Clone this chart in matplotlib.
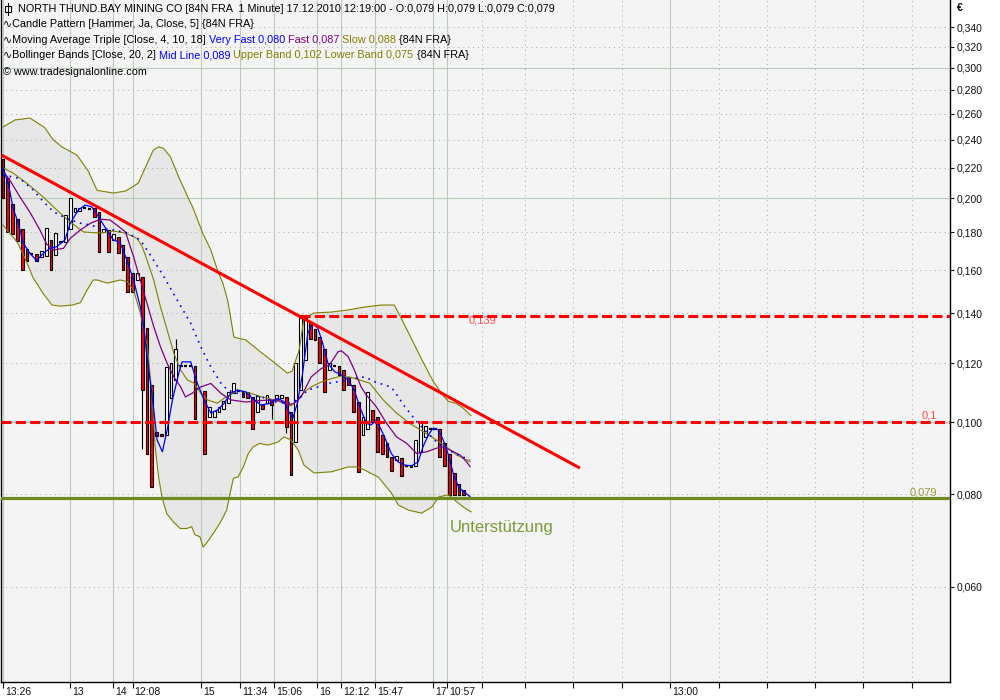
import numpy as np
import matplotlib
matplotlib.use("Agg")
import matplotlib.pyplot as plt
import matplotlib.transforms as mtransforms
from matplotlib.ticker import FixedLocator, FuncFormatter, NullLocator

plt.rcParams["font.family"] = ["Liberation Sans", "DejaVu Sans"]

# 1-minute candles, one slot per traded minute (nan = empty slot)
opens = [0.226, 0.213, 0.1965, 0.1876, 0.1817, 0.1708, 0.1683, 0.1681, 0.1668, 0.1675,
         0.1758, 0.1676, 0.1746, 0.1748, 0.1821, 0.1919, 0.1925, 0.1943, 0.1935, 0.1939,
         0.1917, 0.1804, 0.1813, 0.1758, 0.1773, 0.1729, 0.1666, 0.1586, 0.1553, 0.1568,
         0.1337, 0.1122, 0.097, 0.0965, 0.096, 0.1077, 0.1139, 0.1193, 0.1188, 0.119,
         0.1188, np.nan, 0.1101, 0.1017, 0.1017, 0.103, 0.1041, 0.106, 0.1093, 0.1102,
         0.1098, 0.1096, 0.1082, 0.103, 0.1054, 0.106, 0.1071, 0.1071, 0.1076, 0.1079,
         0.1033, 0.0941, 0.1104, 0.1212, 0.1365, 0.1333, 0.1303, 0.1253, 0.1175, 0.1188,
         0.1188, 0.1175, 0.1148, 0.1122, 0.1064, 0.096, 0.0978, 0.1038, 0.1017, 0.0962,
         0.0936, 0.0897, 0.0889, 0.0894, 0.0872, 0.0875, 0.0872, 0.091, 0.0955, 0.0979,
         0.098, 0.0978, 0.0937, 0.0907, 0.0853, 0.0824, 0.081, 0.079]
closes = [0.200, 0.180, 0.179, 0.1753, 0.1602, 0.1648, 0.1683, 0.1648, 0.1699, 0.1826,
          0.1602, 0.1797, 0.1752, 0.1899, 0.200, 0.1943, 0.1943, 0.1943, 0.1935, 0.1887,
          0.1695, 0.1817, 0.1695, 0.1789, 0.1687, 0.1602, 0.1497, 0.1497, 0.1588, 0.1106,
          0.0907, 0.0818, 0.0958, 0.0959, 0.1187, 0.1199, 0.1252, 0.1188, 0.1188, 0.119,
          0.1008, np.nan, 0.0907, 0.1049, 0.1036, 0.1049, 0.1067, 0.1098, 0.1127, 0.1102,
          0.1079, 0.1078, 0.0978, 0.1084, 0.1041, 0.1089, 0.1054, 0.1089, 0.1089, 0.0985,
          0.0849, 0.1199, 0.1379, 0.1379, 0.1295, 0.1289, 0.1199, 0.1098, 0.1199, 0.1188,
          0.1157, 0.1106, 0.1122, 0.1032, 0.0857, 0.1017, 0.1098, 0.1001, 0.0912, 0.0907,
          0.0897, 0.086, 0.0899, 0.0846, 0.0872, 0.0869, 0.0946, 0.1001, 0.0988, 0.0979,
          0.098, 0.0897, 0.0873, 0.0798, 0.0798, 0.0798, 0.0798, 0.079]
wick_high = {36: 0.1292}
wick_low = {29: 0.0919, 56: 0.1008, 59: 0.0967}

# indicator lines (slot, value)
upper_x = [0, 2.5, 5.6, 8.7, 10.4, 12.3, 15.4, 17.7, 19.6, 23, 25.5, 26.9, 28.2, 29.7, 31.3,
           32.4, 33.4, 34.9, 36.6, 38.5, 39.5, 41.6, 43.3, 44.7, 45.8, 46.8, 47.4, 48.1, 50.6,
           53.7, 56.4, 59.2, 60.2, 61.7, 62.7, 64.8, 68.4, 71.9, 75.3, 78.8, 81.5, 82.4, 84.5,
           87.2, 89.6, 91.5, 92.8, 94.3, 95.8, 97.5]
upper_v = [0.2495, 0.255, 0.2565, 0.249, 0.240, 0.2345, 0.2287, 0.218, 0.205, 0.2033, 0.2046,
           0.2071, 0.2097, 0.2204, 0.2323, 0.2345, 0.2337, 0.2273, 0.2137, 0.2008, 0.1947,
           0.1796, 0.1704, 0.160, 0.1538, 0.1459, 0.1385, 0.1301, 0.1289, 0.1242, 0.1204,
           0.1164, 0.117, 0.125, 0.138, 0.1402, 0.1406, 0.1415, 0.1428, 0.1437, 0.1437, 0.1402,
           0.1318, 0.1215, 0.1135, 0.109, 0.1066, 0.106, 0.1045, 0.102]
lower_x = [0, 3.1, 5, 6.2, 8.3, 10.2, 11.9, 14.4, 16.1, 17.5, 18.8, 19.6, 21.7, 23, 24.4, 25.9,
           27.2, 28.6, 30.1, 31, 31.7, 32.4, 33.1, 34.1, 35.5, 36.9, 38.3, 39.3, 40, 41, 41.7,
           42.4, 43.8, 45.2, 46.6, 47.3, 48, 49, 50.1, 51.1, 52.1, 53.5, 55.2, 57.3, 58.5, 60,
           61.5, 62.7, 64.8, 68.4, 71.9, 73.8, 75.3, 78.2, 80.9, 82.4, 84.5, 87.2, 89.3, 90.8,
           92.8, 94.1, 96.2, 97.5]
lower_v = [0.1841, 0.1741, 0.1637, 0.1567, 0.1491, 0.1437, 0.1432, 0.1437, 0.1447, 0.1505,
           0.1553, 0.1553, 0.1538, 0.1545, 0.1553, 0.1545, 0.1505, 0.1402, 0.1262, 0.1094,
           0.0926, 0.0844, 0.0794, 0.0753, 0.0734, 0.0719, 0.0719, 0.0723, 0.0705, 0.0701,
           0.0679, 0.0687, 0.0708, 0.0731, 0.0761, 0.0802, 0.0840, 0.0844, 0.0871, 0.0907,
           0.0926, 0.0936, 0.0931, 0.094, 0.0955, 0.0946, 0.0917, 0.0875, 0.0854, 0.0857,
           0.087, 0.087, 0.0862, 0.0843, 0.0803, 0.0773, 0.0761, 0.0754, 0.0768, 0.0793,
           0.0798, 0.0785, 0.0766, 0.0757]
mid_x = [0, 3.5, 6.3, 8.4, 10.5, 13.3, 16.1, 18.2, 20.9, 23, 25.8, 28.6, 30.7, 33.5, 36.3,
         39.1, 41.2, 43.3, 45.4, 46.8, 48.8, 50.6, 53.7, 56.5, 59.3, 61.4, 63.5, 65.6, 67.7,
         69.8, 72.6, 75.4, 77.4, 80.9, 82.3, 83.7, 85.1, 86.5, 90.7, 94.1, 95.9, 97.3]
mid_v = [0.2150, 0.2127, 0.2052, 0.1980, 0.1919, 0.1878, 0.1852, 0.1841, 0.1821, 0.1813,
         0.1797, 0.1758, 0.1678, 0.1569, 0.1459, 0.1358, 0.1263, 0.1186, 0.1128, 0.1104,
         0.1093, 0.1087, 0.1082, 0.1065, 0.1060, 0.1071, 0.1104, 0.1115, 0.1127, 0.1133,
         0.1144, 0.1150, 0.1133, 0.1114, 0.1082, 0.1049, 0.1022, 0.0996, 0.0935, 0.0907,
         0.0897, 0.0889]
vfast_x = [0, 1.1, 2.1, 3.2, 4.2, 5.6, 7, 8.4, 9.8, 11.2, 12.9, 14, 15.7, 17.1, 18.5, 19.9,
           21.6, 23, 24.4, 25.8, 27.2, 28.6, 29.3, 30, 31.1, 32.1, 33.2, 34.2, 35.3, 36.6,
           37.3, 39.1, 40.5, 41.9, 43.3, 44.7, 46.1, 47.4, 48.8, 50.6, 51.6, 53.7, 55.8, 57.2,
           58.6, 59.7, 60.4, 61.4, 62.4, 63.5, 64.5, 65.6, 66.6, 67.7, 69.1, 70.5, 71.9, 73.2,
           74.3, 75.7, 76.7, 77.8, 78.8, 79.9, 80.9, 82.3, 83.7, 85.1, 86.5, 87.5, 88.6, 89.6,
           90.7, 91.7, 92.8, 93.8, 94.9, 95.9, 97.3]
vfast_v = [0.2196, 0.2093, 0.1939, 0.1851, 0.1742, 0.1687, 0.1649, 0.1687, 0.1713, 0.1722,
           0.1758, 0.1851, 0.1929, 0.1959, 0.1948, 0.1889, 0.1813, 0.1758, 0.1744, 0.1652,
           0.1553, 0.1429, 0.1344, 0.1225, 0.1081, 0.0946, 0.0912, 0.0976, 0.1071, 0.1162,
           0.1205, 0.1205, 0.1127, 0.1071, 0.1028, 0.1038, 0.1060, 0.1093, 0.1104, 0.1098,
           0.1081, 0.1054, 0.1060, 0.1076, 0.1065, 0.1028, 0.1012, 0.1065, 0.1162, 0.1316,
           0.1358, 0.1337, 0.1276, 0.1199, 0.1169, 0.1157, 0.1139, 0.1104, 0.1049, 0.0996,
           0.0991, 0.1006, 0.0976, 0.0941, 0.0907, 0.0884, 0.0875, 0.0873, 0.0884, 0.0926,
           0.0960, 0.0981, 0.0976, 0.0946, 0.0903, 0.0853, 0.0818, 0.0806, 0.0794]
fast_x = [0, 1.4, 3.5, 5.6, 7.7, 9.1, 10.5, 12.6, 14, 16.1, 18.2, 20.3, 22.3, 23.7, 25.5, 27.2,
          28.6, 30, 31.4, 32.8, 34.2, 35.6, 37, 38, 39.4, 41.2, 43.3, 45.4, 47.4, 50.6, 53.7,
          57.2, 59.3, 60.7, 62.1, 64.2, 66.3, 68, 69.8, 70.5, 71.9, 73.2, 74.6, 75.7, 77.8,
          79.9, 82, 84.1, 86.2, 88.3, 90.3, 91.7, 93.1, 95.2, 96.6, 97.3]
fast_v = [0.2175, 0.2117, 0.2010, 0.1916, 0.1813, 0.1735, 0.1704, 0.1713, 0.1767, 0.1813,
          0.1851, 0.1875, 0.1870, 0.1841, 0.1803, 0.1669, 0.1553, 0.1444, 0.1344, 0.1263,
          0.1199, 0.1150, 0.1115, 0.1081, 0.1093, 0.1115, 0.1127, 0.1093, 0.1071, 0.1064,
          0.1069, 0.1071, 0.1054, 0.1060, 0.1081, 0.1150, 0.1180, 0.1193, 0.1243, 0.1247,
          0.1225, 0.1175, 0.1115, 0.1087, 0.1048, 0.0996, 0.0955, 0.0936, 0.0907, 0.0912,
          0.0922, 0.0926, 0.0917, 0.0903, 0.0884, 0.0871]
slow_x = [0, 2.1, 4.9, 8.4, 11.2, 14, 16.8, 20.3, 23, 25.5, 27.9, 29, 30, 31.4, 32.8, 34.2,
          35.6, 37, 38.4, 39.8, 41.2, 42.6, 44.7, 46, 47.4, 48.8, 50.2, 51.6, 53.7, 56.5, 58.6,
          60, 61.4, 62.8, 64.2, 66.3, 68.4, 70.5, 72.6, 74.3, 76.4, 79.2, 82, 84.7, 87.5, 90.3,
          92.4, 94.5, 96.6, 97.3]
slow_v = [0.2198, 0.2163, 0.2097, 0.2008, 0.1929, 0.1858, 0.1802, 0.1796, 0.1807, 0.1796,
          0.1767, 0.1722, 0.1652, 0.1553, 0.1429, 0.1330, 0.1237, 0.1175, 0.1139, 0.1128,
          0.1093, 0.1071, 0.1060, 0.1076, 0.1087, 0.1104, 0.1098, 0.1093, 0.1082, 0.1071,
          0.1060, 0.1051, 0.1071, 0.1098, 0.1115, 0.1132, 0.1144, 0.1153, 0.1148, 0.1139,
          0.1128, 0.1071, 0.1028, 0.0996, 0.0971, 0.0946, 0.0926, 0.0903, 0.0889, 0.0884]

# drawn levels
resistance = 0.139
resistance_from = 61.9
level_mid = 0.1
support = 0.079
trend_x = [-0.3, 120.2]
trend_v = [0.2287, 0.0867]

price_ticks = [0.06, 0.08, 0.10, 0.12, 0.14, 0.16, 0.18, 0.20, 0.22, 0.24,
               0.26, 0.28, 0.30, 0.32, 0.34]
solid_price_grid = [0.10, 0.20, 0.30]
time_tick_pos = [0, 14, 23, 27, 41.2, 49.4, 56.5, 65.4, 70.4, 77.5, 89.6, 92.5,
                 99.8, 108.8, 118.8, 128.9, 139, 149.2, 159.2, 169.2, 179.2, 189.4]
time_tick_labels = ["13:26", "13", "14", "12:08", "15", "11:34", "15:06", "16", "12:12",
                    "15:47", "17", "10:57", "", "", "", "", "13:00", "", "", "", "", ""]

RED = "#FF0000"
OLIVE = "#808000"

fig = plt.figure(figsize=(10, 7), dpi=100, facecolor="white")
ax = fig.add_axes([0.001, 18 / 700, 0.949, 682 / 700])
ax.set_facecolor("#F4F4F4")
ax.set_yscale("log")
ax.set_ylim(0.04468, 0.3698)
ax.set_xlim(-0.42, 197.3)

# grid
for v in price_ticks:
    if any(abs(v - s) < 1e-9 for s in solid_price_grid):
        ax.axhline(v, color="#B8CCB8", lw=0.8, zorder=1.5)
    else:
        ax.axhline(v, color="#A8A8A8", lw=0.7, ls=(0, (1, 4)), zorder=1.5)
for p, lab in zip(time_tick_pos, time_tick_labels):
    if lab:
        ax.axvline(p, color="#B8CCB8", lw=0.8, zorder=1.5)
    else:
        ax.axvline(p, color="#A8A8A8", lw=0.7, ls=(0, (1, 4)), zorder=1.5)

# bollinger band area
poly_x = np.r_[upper_x, lower_x[::-1]]
poly_v = np.r_[upper_v, lower_v[::-1]]
ax.fill(poly_x, poly_v, color="#E7E7E7", lw=0, zorder=1)

# candles
o = np.array(opens, dtype=float)
c = np.array(closes, dtype=float)
idx = np.arange(len(o))
hi = np.fmax(o, c)
lo = np.fmin(o, c)
for k, v in wick_high.items():
    hi[k] = v
for k, v in wick_low.items():
    lo[k] = v
ok = ~np.isnan(o)
ax.vlines(idx[ok], lo[ok], hi[ok], color="black", lw=0.8, zorder=2)
body = ok & (np.abs(c - o) > 1e-9)
up = body & (c > o)
down = body & (c < o)
ax.bar(idx[up], (c - o)[up], bottom=o[up], width=0.6,
       color="white", edgecolor="black", lw=0.8, zorder=2.5)
ax.bar(idx[down], (o - c)[down], bottom=c[down], width=0.6,
       color=RED, edgecolor="black", lw=0.8, zorder=2.5)
doji = ok & ~body
ax.hlines(c[doji], idx[doji] - 0.35, idx[doji] + 0.35, color="black", lw=1.6, zorder=2.5)

# indicators
ax.plot(upper_x, upper_v, color=OLIVE, lw=0.8, zorder=3)
ax.plot(lower_x, lower_v, color=OLIVE, lw=0.8, zorder=3)
ax.plot(slow_x, slow_v, color=OLIVE, lw=0.8, zorder=3)
ax.plot(fast_x, fast_v, color="#800080", lw=0.9, zorder=3)
ax.plot(mid_x, mid_v, color="#0000FF", lw=1.2, ls=(0, (1, 3)), zorder=3)
ax.plot(vfast_x, vfast_v, color="#0000FF", lw=0.9, zorder=3.2)

# drawn lines
ax.plot(trend_x, trend_v, color=RED, lw=2.2, zorder=4, solid_capstyle="butt")
ax.plot([resistance_from, 197.3], [resistance, resistance], color=RED, lw=2.2,
        ls=(0, (3.3, 1.4)), zorder=4)
ax.axhline(level_mid, color=RED, lw=2.2, ls=(0, (3.3, 1.4)), zorder=4)
ax.axhline(support, color="#6E8B22", lw=2.3, zorder=4)

ax.text(97.1, 0.1368, "0,139", color="#FF4A4A", fontsize=8, va="center", ha="left")
ax.text(194.6, 0.1019, "0,1", color="#FF4A4A", fontsize=8, va="center", ha="right")
ax.text(194.6, 0.0805, "0,079", color="#9A9A40", fontsize=8, va="center", ha="right")
ax.text(93.1, 0.0722, "Unterstützung", color="#7C9A36", fontsize=12, va="center", ha="left")

# axes
ax.yaxis.tick_right()
ax.yaxis.set_major_locator(FixedLocator(price_ticks))
ax.yaxis.set_minor_locator(NullLocator())
ax.yaxis.set_major_formatter(FuncFormatter(lambda v, _: f"{v:.3f}".replace(".", ",")))
ax.tick_params(axis="y", direction="out", length=3, pad=2, labelsize=7.5,
               colors="#111111", width=0.8)
ax.set_xticks(time_tick_pos, time_tick_labels)
ax.tick_params(axis="x", direction="out", length=4, pad=-0.5, labelsize=7.5,
               colors="#111111", width=0.8)
shift = mtransforms.ScaledTranslation(2 / 100, 0, fig.dpi_scale_trans)
for lbl in ax.get_xticklabels():
    lbl.set_ha("left")
    lbl.set_transform(lbl.get_transform() + shift)
for side in ["left", "bottom", "right"]:
    ax.spines[side].set_color("black")
    ax.spines[side].set_linewidth(1)
ax.spines["top"].set_visible(False)

fig.text(957 / 1000, 1 - 8 / 700, "€", fontsize=7.5, fontweight="bold", va="center", ha="left")

# header lines, pieces laid out one after another on a common baseline
renderer = fig.canvas.get_renderer()


def header(py, parts, px):
    x = px / 1000
    y = 1 - py / 700
    for text, color in parts:
        t = fig.text(x, y, text, color=color, fontsize=7.8, va="baseline", ha="left")
        bb = t.get_window_extent(renderer=renderer)
        x = fig.transFigure.inverted().transform((bb.x1, bb.y0))[0]


header(12.5, [("NORTH THUND.BAY MINING CO [84N FRA  1 Minute] 17.12.2010 12:19:00 - "
               "O:0,079 H:0,079 L:0,079 C:0,079", "black")], px=18)
header(27, [("∿Candle Pattern [Hammer, Ja, Close, 5] {84N FRA}", "black")], px=3)
header(43, [("∿Moving Average Triple [Close, 4, 10, 18] ", "black"),
            ("Very Fast 0,080", "#0000FF"), (" Fast 0,087", "#800080"),
            (" Slow 0,088", OLIVE), (" {84N FRA}", "black")], px=3)
header(58, [("∿Bollinger Bands [Close, 20, 2] ", "black"), ("Mid Line 0,089", "#0000FF"),
            (" Upper Band 0,102 Lower Band 0,075", OLIVE), (" {84N FRA}", "black")], px=3)
header(75, [("© www.tradesignalonline.com", "black")], px=3)

# small candle icon in front of the title line
icon_ax = fig.add_axes([3 / 1000, 1 - 16 / 700, 10 / 1000, 14 / 700])
icon_ax.axis("off")
icon_ax.set_xlim(0, 1)
icon_ax.set_ylim(0, 1)
icon_ax.plot([0.5, 0.5], [0.05, 0.95], color="black", lw=0.8)
icon_ax.add_patch(plt.Rectangle((0.2, 0.3), 0.6, 0.4, facecolor="white", edgecolor="black", lw=0.8))

fig.savefig("out.png", dpi=100, facecolor="white")
